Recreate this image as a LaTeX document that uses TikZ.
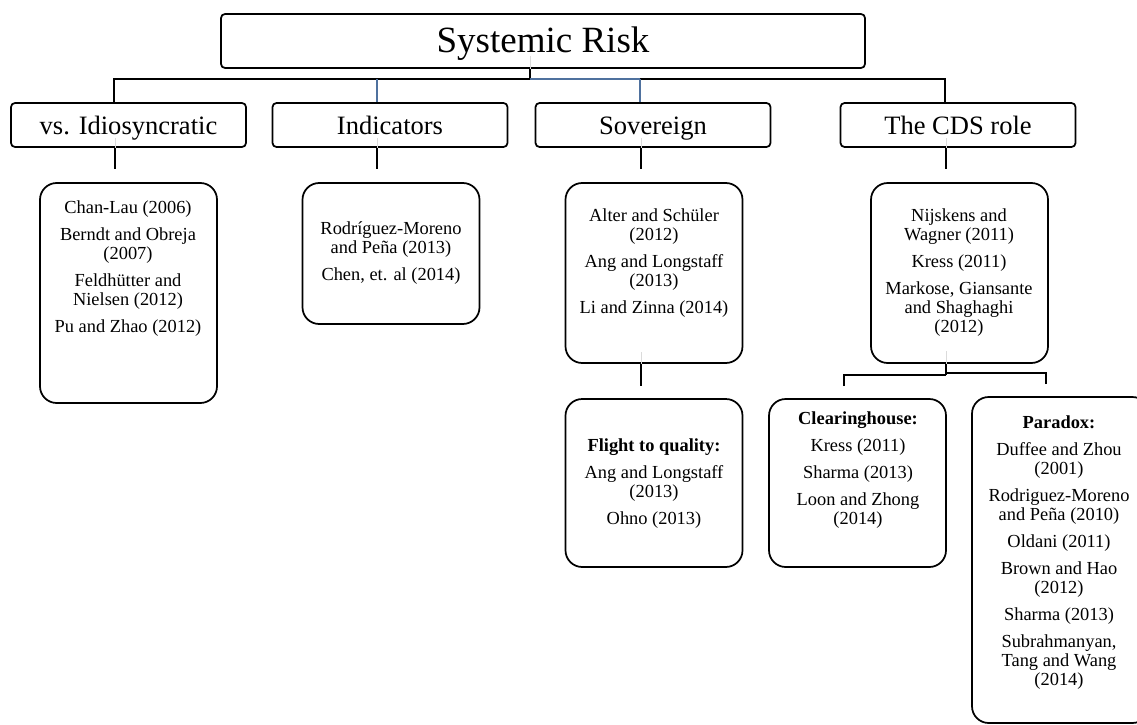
\documentclass[tikz,border=0pt]{standalone}
\usepackage{fontspec}
\setmainfont{Liberation Serif}
\definecolor{linkblue}{RGB}{79,113,158}
\begin{document}
\begin{tikzpicture}[x=0.75pt,y=-0.75pt,
  topbox/.style={draw, line width=1.3pt, rounded corners=3pt, inner sep=0pt,
    minimum width=483pt, minimum height=40.5pt, text height=22pt, text depth=4pt,
    font=\fontsize{27.75}{30}\selectfont},
  headbox/.style={draw, line width=1.3pt, rounded corners=3pt, inner sep=0pt,
    minimum width=176.25pt, minimum height=33pt, text height=16.5pt, text depth=3pt,
    font=\fontsize{19.9}{22}\selectfont},
  leaf/.style={draw, line width=1.3pt, rounded corners=12.5pt, inner sep=0pt,
    minimum width=132.75pt},
  lbl/.style={align=center, inner sep=0pt, font=\fontsize{13.8}{14.25}\selectfont},
  conn/.style={line width=1.3pt},
  bconn/.style={line width=0.8pt, draw=linkblue},
  ghost/.style={line width=0.6pt, draw=black!14}]
\useasboundingbox (0,0) rectangle (1137,724);
\clip (0,0) rectangle (1137,724);

% boxes
\node[topbox] (top) at (543,41) {Systemic Risk};
\node[headbox] (l1a) at (128.5,125) {vs. Idiosyncratic};
\node[headbox] (l1b) at (390,125) {Indicators};
\node[headbox] (l1c) at (653,125) {Sovereign};
\node[headbox] (l1d) at (958,125) {The CDS role};

\node[leaf, minimum height=165pt] (la) at (128.5,293) {};
\node[leaf, minimum height=105.75pt] (lb) at (391,253.5) {};
\node[leaf, minimum height=135pt] (lc) at (654,273) {};
\node[leaf, minimum height=135pt] (ld) at (959.5,273) {};
\node[leaf, minimum height=126pt] (lc2) at (654,483) {};
\node[leaf, minimum height=126pt] (ld2) at (857.5,483) {};
\node[leaf, minimum height=244.5pt] (ld3) at (1060.5,560) {};

% texts
\node[lbl] (ta) at (128,268.5) {Chan-Lau (2006)\\[6pt]Berndt and Obreja\\(2007)\\[6pt]Feldhütter and\\Nielsen (2012)\\[6pt]Pu and Zhao (2012)};
\node[lbl] (tb) at (391,253.5) {Rodríguez-Moreno\\and Peña (2013)\\[6pt]Chen, et. al (2014)};
\node[lbl] (tc) at (654,263) {Alter and Schüler\\(2012)\\[6pt]Ang and Longstaff\\(2013)\\[6pt]Li and Zinna (2014)};
\node[lbl] (td) at (959,273) {Nijskens and\\Wagner (2011)\\[6pt]Kress (2011)\\[6pt]Markose, Giansante\\and Shaghaghi\\(2012)};
\node[lbl] (tc2) at (654,483.5) {\textbf{Flight to quality:}\\[6pt]Ang and Longstaff\\(2013)\\[6pt]Ohno (2013)};
\node[lbl] (td2) at (858,470.5) {\textbf{Clearinghouse:}\\[6pt]Kress (2011)\\[6pt]Sharma (2013)\\[6pt]Loon and Zhong\\(2014)};
\node[lbl] (td3) at (1059,553) {\textbf{Paradox:}\\[6pt]Duffee and Zhou\\(2001)\\[6pt]Rodriguez-Moreno\\and Peña (2010)\\[6pt]Oldani (2011)\\[6pt]Brown and Hao\\(2012)\\[6pt]Sharma (2013)\\[6pt]Subrahmanyan,\\Tang and Wang\\(2014)};

% connector points
\coordinate (stem) at (530,79);
\coordinate (ja) at (114,79);
\coordinate (jb) at (377,79);
\coordinate (jc) at (640,79);
\coordinate (jd) at (945,79);
\coordinate (fa) at (115,169);
\coordinate (fb) at (377,169);
\coordinate (fc) at (641,169);
\coordinate (fd) at (946,169);
\coordinate (gc) at (641,386);
\coordinate (hd) at (946,374.5);
\coordinate (hl) at (844,386);
\coordinate (hlt) at (844,375);
\coordinate (hr) at (1046,384);
\coordinate (hrt) at (1046,373);

% faint guide lines inside boxes
\draw[ghost] (top.south -| stem) -- ++(0,-13);
\draw[ghost] (l1a.south -| fa) -- ++(0,-10);
\draw[ghost] (l1b.south -| fb) -- ++(0,-10);
\draw[ghost] (l1c.south -| fc) -- ++(0,-10);
\draw[ghost] (l1d.south -| fd) -- ++(0,-10);
\draw[ghost] (lc.south -| gc) -- ++(0,-12);
\draw[ghost] (ld.south -| hd) -- ++(0,-13);

% top level connectors
\draw[conn] (top.south -| stem) -- (stem);
\draw[conn] (ja |- l1a.north) -- (ja) -- (jd) -- (jd |- l1d.north);
\draw[line width=1.3pt, draw=linkblue] (stem) -- (jc);
\draw[bconn] (jb) -- (jb |- l1b.north);
\draw[bconn] (jc) -- (jc |- l1c.north);

% second level connectors
\draw[conn] (l1a.south -| fa) -- (fa);
\draw[conn] (l1b.south -| fb) -- (fb);
\draw[conn] (l1c.south -| fc) -- (fc);
\draw[conn] (l1d.south -| fd) -- (fd);

% third level connectors
\draw[conn] (lc.south -| gc) -- (gc);
\draw[conn] (ld.south -| hd) -- (hd);
\draw[conn] (hl) -- (hlt) -- (hlt -| hd);
\draw[conn] (hr) -- (hrt) -- (hrt -| hd);
\end{tikzpicture}
\end{document}
